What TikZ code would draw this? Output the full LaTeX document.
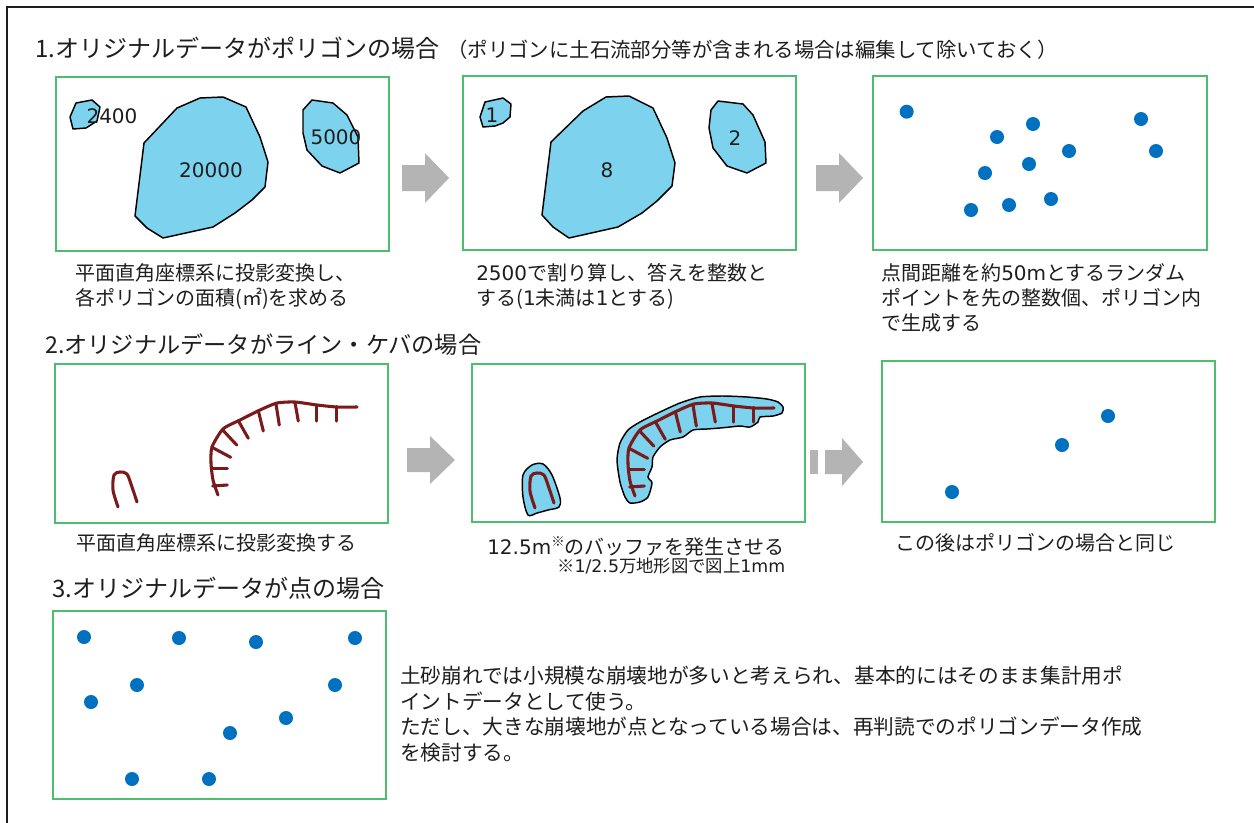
\documentclass[tikz,border=0pt]{standalone}
\usepackage{fontspec}
\setmainfont{Noto Sans CJK JP}
\newfontfamily\latn{DejaVu Sans}
\definecolor{boxgreen}{HTML}{4DBE6E}
\definecolor{polyblue}{HTML}{7DD3ED}
\definecolor{ridgered}{HTML}{7A1A1A}
\definecolor{ptblue}{HTML}{0070C0}
\definecolor{arrowgray}{HTML}{B4B4B4}
\definecolor{txt}{HTML}{1E1E1E}
\begin{document}
\begin{tikzpicture}[x=0.75pt,y=-0.75pt,
  panel/.style={draw=boxgreen, line width=1.5pt},
  blob/.style={draw=black, fill=polyblue, line width=1.1pt, line join=round},
  buffer/.style={draw=black, fill=polyblue, line width=1.1pt},
  ridge/.style={draw=ridgered, line width=2.3pt, line cap=round, line join=round},
  ptdot/.style={circle, fill=ptblue, inner sep=0pt, minimum size=10.5pt},
  blockarrow/.style={fill=arrowgray},
  ttl/.style={anchor=base west, inner sep=0pt, font=\fontsize{18}{22}\selectfont, text=txt},
  captxt/.style={anchor=north west, inner sep=0pt, align=left, font=\fontsize{15}{18.75}\selectfont, text=txt},
  num/.style={inner sep=0pt, font=\latn\fontsize{15}{18}\selectfont, text=txt},
]
\useasboundingbox (0,0) rectangle (1254,822);
\fill[white] (0,0) rectangle (1254,822);
% outer frame (only top and left edges visible)
\draw[line width=1.6pt, color=txt] (7,830) -- (7,7) -- (1260,7);

% ---------- Section 1 ----------
\node[ttl] (t1) at (35,57) {1.オリジナルデータがポリゴンの場合};
\node[ttl, font=\fontsize{15.3}{18}\selectfont] (t1s) at (447,57) {（ポリゴンに土石流部分等が含まれる場合は編集して除いておく）};

\draw[panel] (56,77) rectangle (389,251);
\draw[panel] (463,76) rectangle (796,250);
\draw[panel] (873,76) rectangle (1207,250);

% box A polygons
\draw[blob] (70,117) -- (76,103) -- (92,100) -- (100,107) -- (97,121) -- (86,128) -- (73,129) -- cycle;
\draw[blob] (200,98) -- (223,97) -- (246,107) -- (260,137) -- (268,162) -- (265,187) -- (252,200) -- (235,213) -- (213,227) -- (163,238) -- (147,228) -- (135,216) -- (144,143) -- (177,108) -- cycle;
\draw[blob] (312,100) -- (333,103) -- (347,115) -- (358,137) -- (359,163) -- (340,173) -- (322,166) -- (307,150) -- (303,133) -- (303,110) -- cycle;
\node[num] (n2400) at (112,116) {2400};
\node[num] (n20000) at (211,170) {20000};
\node[num] (n5000) at (336,137) {5000};

% box B polygons
\draw[blob] (485,102) -- (503,98) -- (511,104) -- (510,117) -- (503,123) -- (495,126) -- (483,127) -- (480,117) -- cycle;
\draw[blob] (606,97) -- (629,96) -- (653,108) -- (667,138) -- (675,163) -- (672,186) -- (657,201) -- (642,213) -- (618,227) -- (569,238) -- (553,227) -- (542,215) -- (551,142) -- (583,111) -- cycle;
\draw[blob] (718,101) -- (743,104) -- (753,115) -- (765,142) -- (766,163) -- (747,173) -- (727,166) -- (713,148) -- (709,128) -- (711,110) -- cycle;
\node[num] (n1) at (492,115) {1};
\node[num] (n8) at (607,170) {8};
\node[num] (n2) at (735,138) {2};

% box C points
\node[ptdot] (c1) at (906.7,111.7) {};
\node[ptdot] (c2) at (1033,124) {};
\node[ptdot] (c3) at (997,137) {};
\node[ptdot] (c4) at (1069,151) {};
\node[ptdot] (c5) at (1141,119) {};
\node[ptdot] (c6) at (1156,151) {};
\node[ptdot] (c7) at (1029,164) {};
\node[ptdot] (c8) at (985,173) {};
\node[ptdot] (c9) at (1051,199) {};
\node[ptdot] (c10) at (1009,205) {};
\node[ptdot] (c11) at (971,210) {};

% arrows row 1
\fill[blockarrow] (402,165) -- (425,165) -- (425,153) -- (449,178) -- (425,203) -- (425,191) -- (402,191) -- cycle;
\fill[blockarrow] (816,165) -- (839,165) -- (839,153) -- (863,178) -- (839,203) -- (839,191) -- (816,191) -- cycle;

% captions row 1
\node[captxt] (capA) at (75,263) {平面直角座標系に投影変換し、\\各ポリゴンの面積(㎡)を求める};
\node[captxt] (capB) at (476,263) {{\latn 2500}で割り算し、答えを整数と\\する({\latn 1}未満は{\latn 1}とする)};
\node[captxt] (capC) at (881,263) {点間距離を約{\latn 50m}とするランダム\\ポイントを先の整数個、ポリゴン内\\で生成する};

% ---------- Section 2 ----------
\node[ttl, font=\fontsize{17.4}{22}\selectfont] (t2) at (45,353) {2.オリジナルデータがライン・ケバの場合};

\draw[panel] (55,364) rectangle (388,523);
\draw[panel] (472,364) rectangle (805,522);
\draw[panel] (882,361) rectangle (1215,522);

% buffers in box B2
\draw[buffer] plot[smooth cycle, tension=0.5] coordinates {(528,515) (523,497) (523,475) (532,465) (543,464) (552,475) (560,498) (559,507) (548,510) (537,513)};
\draw[buffer] plot[smooth cycle, tension=0.4] coordinates {(625,497) (620,482) (617,460) (620,443) (628,430) (640,422) (660,412) (680,403) (700,397) (723,396) (747,397) (767,399) (778,402) (783,407) (782,413) (773,416) (760,417) (758,422) (750,427) (740,426) (730,427) (720,428) (707,429) (693,430) (683,437) (670,440) (660,447) (653,457) (652,467) (648,477) (652,483) (648,497) (640,502) (630,503)};

% ridge lines (box A2 and, shifted, box B2)
\foreach \dx/\dy in {0/0, 417/1}{
\begin{scope}[shift={(\dx,\dy)}]
\draw[ridge] plot[smooth, tension=0.5] coordinates {(118,507) (113,490) (114,475) (120,472) (127,474) (132,487) (137,502)};
\draw[ridge] plot[smooth, tension=0.4] coordinates {(218,495) (213,480) (211,463) (212,447) (223,429) (240,420) (260,410) (277,403) (295,402) (317,405) (337,407) (357,407)};
\draw[ridge] (212.7,486) -- (227.3,485);
\draw[ridge] (211.7,468.3) -- (227.3,468.3);
\draw[ridge] (212,447.3) -- (230.7,457.3);
\draw[ridge] (222.7,430) -- (236.7,445);
\draw[ridge] (238.3,420.7) -- (248.3,438.3);
\draw[ridge] (258.3,410.7) -- (263.3,431);
\draw[ridge] (276,404) -- (279.3,425);
\draw[ridge] (295,402.7) -- (298.3,421);
\draw[ridge] (316.7,405.7) -- (316.7,421);
\draw[ridge] (336.7,406.7) -- (336.7,421);
\end{scope}
}

% box C2 points
\node[ptdot] (d1) at (952,492) {};
\node[ptdot] (d2) at (1062,445) {};
\node[ptdot] (d3) at (1108,416) {};

% arrows row 2
\fill[blockarrow] (407,448) -- (430,448) -- (430,436) -- (455,460) -- (430,484) -- (430,472) -- (407,472) -- cycle;
\fill[blockarrow] (810,450) rectangle (818,474);
\fill[blockarrow] (825,450) -- (842,450) -- (842,438) -- (863,462) -- (842,486) -- (842,474) -- (825,474) -- cycle;

% captions row 2
\node[captxt] (capA2) at (76,533) {平面直角座標系に投影変換する};
\node[captxt] (capB2) at (487,536) {{\latn 12.5m}\raisebox{0.4em}{\fontsize{10}{10}\selectfont ※}のバッファを発生させる};
\node[anchor=base west, inner sep=0pt, font=\fontsize{13}{15}\selectfont, text=txt] (noteB2) at (557,572) {※{\latn 1/2.5}万地形図で図上{\latn 1mm}};
\node[captxt] (capC2) at (895,533) {この後はポリゴンの場合と同じ};

% ---------- Section 3 ----------
\node[ttl] (t3) at (52,597) {3.オリジナルデータが点の場合};
\draw[panel] (53,611) rectangle (386,799);

\node[ptdot] (e1) at (84,637) {};
\node[ptdot] (e2) at (179,638) {};
\node[ptdot] (e3) at (256,642) {};
\node[ptdot] (e4) at (355,638) {};
\node[ptdot] (e5) at (137,685) {};
\node[ptdot] (e6) at (91,702) {};
\node[ptdot] (e7) at (335,685) {};
\node[ptdot] (e8) at (286,718) {};
\node[ptdot] (e9) at (230,733) {};
\node[ptdot] (e10) at (132,779) {};
\node[ptdot] (e11) at (209,779) {};

\node[captxt, font=\fontsize{15.5}{19.1}\selectfont] (para) at (400,666) {土砂崩れでは小規模な崩壊地が多いと考えられ、基本的にはそのまま集計用ポ\\イントデータとして使う。\\ただし、大きな崩壊地が点となっている場合は、再判読でのポリゴンデータ作成\\を検討する。};
\end{tikzpicture}
\end{document}
